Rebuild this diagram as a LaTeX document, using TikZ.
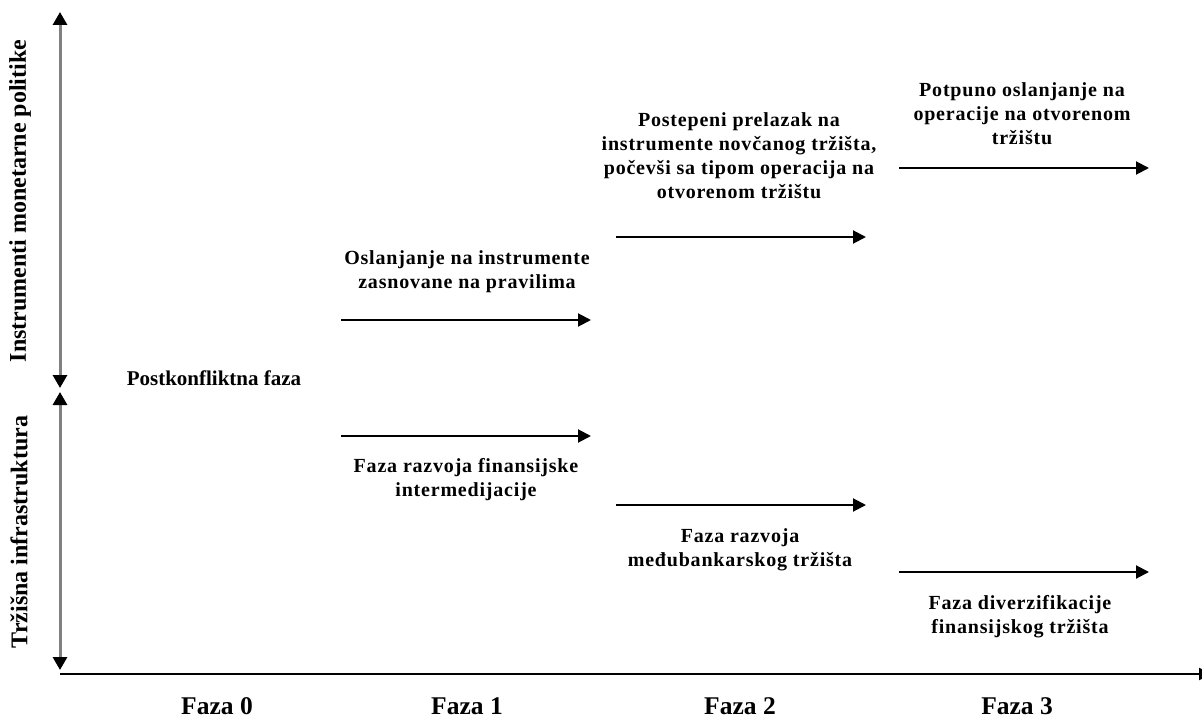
\documentclass[tikz,border=0pt]{standalone}
\usepackage{fontspec}
\setmainfont{Liberation Serif}
\newfontfamily\phasefont{Liberation Serif}[LetterSpace=4]
\usetikzlibrary{arrows.meta}
\tikzset{
  phase/.style={align=center, inner sep=0pt,
    font=\phasefont\bfseries\fontsize{20}{24}\selectfont},
  plain/.style={align=center, inner sep=0pt,
    font=\bfseries\fontsize{21}{24}\selectfont},
  axislabel/.style={inner sep=0pt, font=\bfseries\fontsize{24}{26}\selectfont},
  timelabel/.style={inner sep=0pt, font=\bfseries\fontsize{25.5}{27}\selectfont},
  steparrow/.style={draw=black, line width=2pt,
    -{Triangle[length=13pt,width=13pt]}},
  vaxis/.style={draw=gray, line width=3pt,
    {Triangle[length=13pt,width=14pt,color=black]}-{Triangle[length=13pt,width=14pt,color=black]}},
  haxis/.style={draw=black, line width=2pt, -{Triangle[length=13pt,width=12pt]}}
}
\begin{document}
\begin{tikzpicture}[x=1pt, y=-1pt]
\clip (0,0) rectangle (1202,719);
\fill[white] (0,0) rectangle (1202,719);

% axes
\coordinate (v0) at (60,12);
\coordinate (v1) at (60,388);
\coordinate (v2) at (60,392);
\coordinate (v3) at (60,670);
\coordinate (o) at (60,674);
\coordinate (xe) at (1212,674);
\draw[vaxis] (v1) -- (v0);
\draw[vaxis] (v3) -- (v2);
\draw[haxis] (o) -- (xe);

\node[axislabel, rotate=90] (ylabA) at (20,201) {Instrumenti monetarne politike};
\node[axislabel, rotate=90] (ylabB) at (19,532) {Tržišna infrastruktura};

% phase labels on the time axis
\node[timelabel] (f0) at (217,706) {Faza 0};
\node[timelabel] (f1) at (467,706) {Faza 1};
\node[timelabel] (f2) at (740,706) {Faza 2};
\node[timelabel] (f3) at (1017,706) {Faza 3};

% starting point
\node[plain] (post) at (214,378) {Postkonfliktna faza};

% monetary policy instruments
\node[phase] (ia) at (467,272) {Oslanjanje na instrumente\\zasnovane na pravilima};
\node[phase] (ib) at (739,156) {Postepeni prelazak na\\instrumente novčanog tržišta,\\počevši sa tipom operacija na\\otvorenom tržištu};
\node[phase] (ic) at (1022,114) {Potpuno oslanjanje na\\operacije na otvorenom\\tržištu};

% market infrastructure
\node[phase] (ma) at (466,480) {Faza razvoja finansijske\\intermedijacije};
\node[phase] (mb) at (740,550) {Faza razvoja\\međubankarskog tržišta};
\node[phase] (mc) at (1020,617) {Faza diverzifikacije\\finansijskog tržišta};

% transitions between phases
\coordinate (ia1) at (341,320);  \coordinate (ia2) at (591,320);
\coordinate (ib1) at (616,237);  \coordinate (ib2) at (866,237);
\coordinate (ic1) at (899,168);  \coordinate (ic2) at (1149,168);
\coordinate (ma1) at (341,436);  \coordinate (ma2) at (591,436);
\coordinate (mb1) at (616,505);  \coordinate (mb2) at (866,505);
\coordinate (mc1) at (899,572);  \coordinate (mc2) at (1149,572);
\draw[steparrow] (ia1) -- (ia2);
\draw[steparrow] (ib1) -- (ib2);
\draw[steparrow] (ic1) -- (ic2);
\draw[steparrow] (ma1) -- (ma2);
\draw[steparrow] (mb1) -- (mb2);
\draw[steparrow] (mc1) -- (mc2);
\end{tikzpicture}
\end{document}
